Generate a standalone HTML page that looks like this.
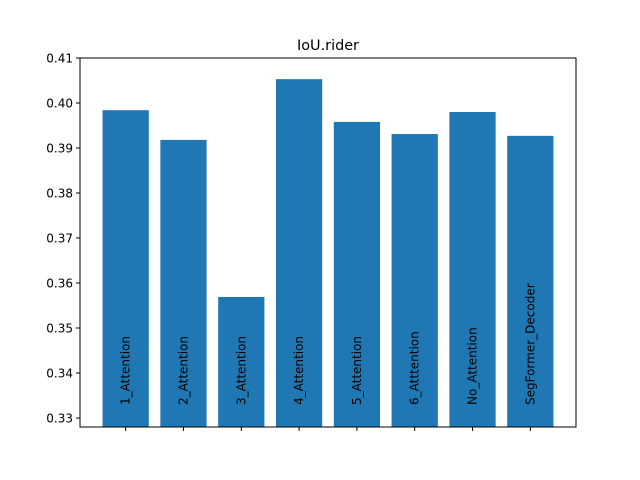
<!DOCTYPE html>
<html><head><meta charset="utf-8"><style>body{margin:0;background:#fff}svg{display:block}</style></head>
<body>
<svg width="640" height="480" viewBox="0 0 640 480" font-family="'DejaVu Sans','Liberation Sans',sans-serif">
<rect width="640" height="480" fill="#fff"/>
<text x="328" y="50" font-size="14.4" text-anchor="middle">IoU.rider</text>
<g id="bars"></g>
<g id="yaxis"></g>
<g id="xaxis"></g>
<rect x="80" y="58" width="496" height="369" fill="none" stroke="#000" stroke-width="1"/>
</svg>
<script>
const categories = ["1_Attention","2_Attention","3_Attention","4_Attention","5_Attention","6_Atttention","No_Attention","SegFormer_Decoder"];
const values = [0.3984,0.3918,0.3569,0.4053,0.3958,0.3931,0.3980,0.3927];
const yTicks = [0.33,0.34,0.35,0.36,0.37,0.38,0.39,0.40,0.41];
const yTickLabels = ["0.33","0.34","0.35","0.36","0.37","0.38","0.39","0.40","0.41"];
const NS="http://www.w3.org/2000/svg";
const L=80,R=576,T=58,B=427, yMin=0.328, yMax=0.41;
const n=categories.length, xlo=-0.5-0.39+0.1, span=(n-1)+0.8+0.78;
function xs(i){return L+(i+0.39+0.4)/span*(R-L);}
function ys(v){return B-(v-yMin)/(yMax-yMin)*(B-T);}
const unit=(R-L)/span;
const gb=document.getElementById('bars'), gy=document.getElementById('yaxis'), gx=document.getElementById('xaxis');
function mk(t,a){const e=document.createElementNS(NS,t);for(const k in a)e.setAttribute(k,a[k]);return e;}
categories.forEach((c,i)=>{
  const cx=xs(i), w=0.8*unit, y=ys(values[i]);
  const r=mk('rect',{x:cx-w/2,y:y,width:w,height:B-y,fill:'#1f77b4'});
  
  
  gb.appendChild(r);
  const t=mk('text',{x:0,y:0,'font-size':12,transform:`translate(${cx+4},405) rotate(-90)`});
  
  
  t.textContent=c; gb.appendChild(t);
  const tk=mk('line',{x1:cx,x2:cx,y1:B,y2:B+4,stroke:'#000'});
  
  
  gx.appendChild(tk);
});
yTicks.forEach((v,i)=>{
  const y=ys(v);
  const tk=mk('line',{x1:L-4,x2:L,y1:y,y2:y,stroke:'#000'});
  
  
  gy.appendChild(tk);
  const t=mk('text',{x:L-7,y:y+4.5,'font-size':12,'text-anchor':'end'});
  
  
  t.textContent=yTickLabels[i]; gy.appendChild(t);
});
</script>
</body></html>
